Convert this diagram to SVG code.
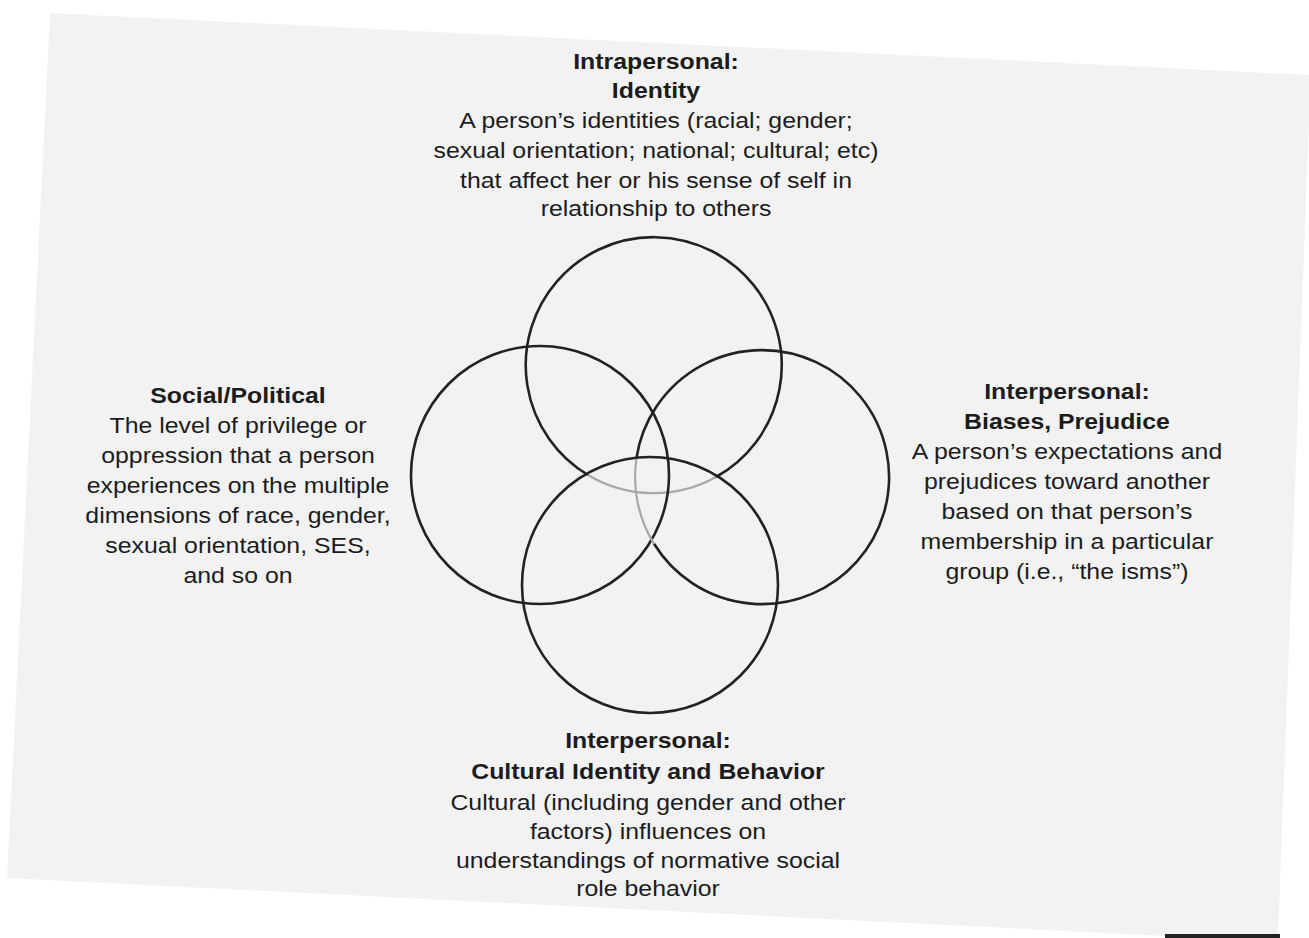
<svg xmlns="http://www.w3.org/2000/svg" width="1309" height="938" viewBox="0 0 1309 938">
<style>
  text { font-family: "Liberation Sans", Arial, Helvetica, sans-serif; font-size: 22px; fill: #1c1c1c; text-anchor: middle; }
  .t { font-weight: bold; }
  .c { fill: none; stroke: #222; stroke-width: 2.6; }
  .f { fill: none; stroke: #a8a8a8; stroke-width: 2.2; }
</style>
<rect x="0" y="0" width="1309" height="938" fill="#ffffff"/>
<polygon points="50,13 1309,75 1309,120 1278,938 1207,938 7,878" fill="#f2f2f2"/>
<rect x="1165" y="934" width="115" height="4" fill="#222"/>

<g id="connectors">
  <path id="c-top" class="c" d="M 716 477 A 128 128 0 1 0 588 475"/>
  <path class="f" d="M 588 475 A 128 128 0 0 0 716 477"/>
  <circle id="c-left" class="c" cx="540" cy="475" r="129"/>
  <path id="c-right" class="c" d="M 654 543.8 A 127 127 0 1 0 636.5 458"/>
  <path class="f" d="M 636.5 458 A 127 127 0 0 0 654 543.8"/>
  <circle id="c-bottom" class="c" cx="650" cy="585" r="128"/>
</g>

<g id="node-intrapersonal" transform="translate(656 0) scale(1.13 1)">
  <text class="t" x="0" y="69">Intrapersonal:</text>
  <text class="t" x="0" y="98">Identity</text>
  <text x="0" y="128">A person’s identities (racial; gender;</text>
  <text x="0" y="158">sexual orientation; national; cultural; etc)</text>
  <text x="0" y="188">that affect her or his sense of self in</text>
  <text x="0" y="216">relationship to others</text>
</g>

<g id="node-social" transform="translate(238 0) scale(1.13 1)">
  <text class="t" x="0" y="403">Social/Political</text>
  <text x="0" y="433">The level of privilege or</text>
  <text x="0" y="463">oppression that a person</text>
  <text x="0" y="493">experiences on the multiple</text>
  <text x="0" y="523">dimensions of race, gender,</text>
  <text x="0" y="553">sexual orientation, SES,</text>
  <text x="0" y="583">and so on</text>
</g>

<g id="node-biases" transform="translate(1067 0) scale(1.13 1)">
  <text class="t" x="0" y="399">Interpersonal:</text>
  <text class="t" x="0" y="429">Biases, Prejudice</text>
  <text x="0" y="459">A person’s expectations and</text>
  <text x="0" y="489">prejudices toward another</text>
  <text x="0" y="519">based on that person’s</text>
  <text x="0" y="549">membership in a particular</text>
  <text x="0" y="579">group (i.e., “the isms”)</text>
</g>

<g id="node-cultural" transform="translate(648 0) scale(1.13 1)">
  <text class="t" x="0" y="748">Interpersonal:</text>
  <text class="t" x="0" y="779">Cultural Identity and Behavior</text>
  <text x="0" y="810">Cultural (including gender and other</text>
  <text x="0" y="839">factors) influences on</text>
  <text x="0" y="868">understandings of normative social</text>
  <text x="0" y="896">role behavior</text>
</g>
</svg>
